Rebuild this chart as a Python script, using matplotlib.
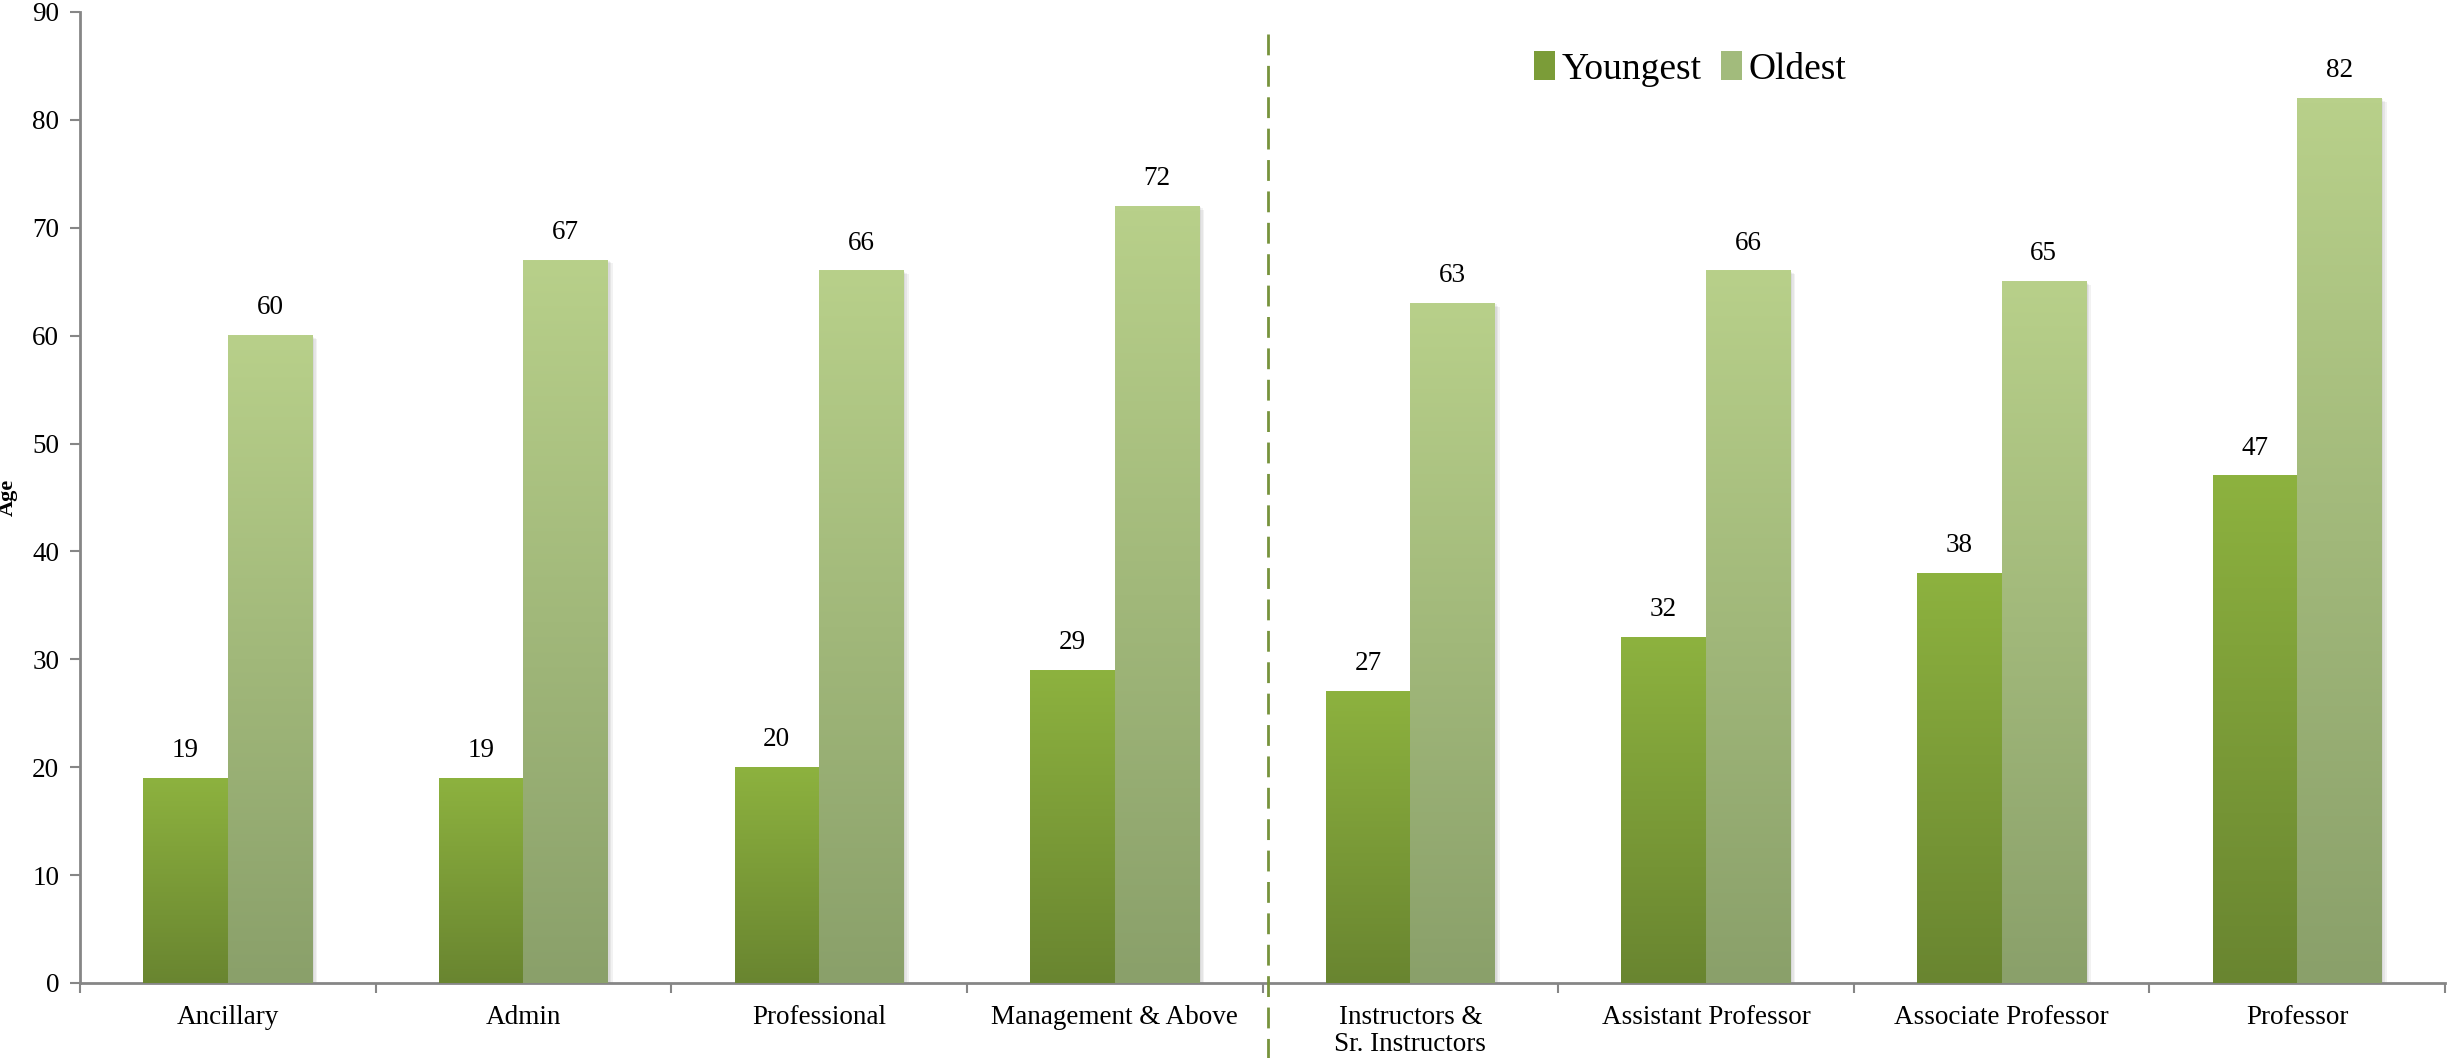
import matplotlib
matplotlib.use("Agg")
import matplotlib.pyplot as plt
import numpy as np
from matplotlib.colors import LinearSegmentedColormap, to_rgb
from matplotlib.patches import Patch, Rectangle
import matplotlib.transforms as mtransforms
from matplotlib import font_manager

categories = ["Ancillary", "Admin", "Professional", "Management & Above",
              "Instructors &\nSr. Instructors", "Assistant Professor",
              "Associate Professor", "Professor"]
youngest = [19, 19, 20, 29, 27, 32, 38, 47]
oldest = [60, 67, 66, 72, 63, 66, 65, 82]
yticks = [0, 10, 20, 30, 40, 50, 60, 70, 80, 90]

names = {f.name for f in font_manager.fontManager.ttflist}
serif_pick = [n for n in ["Liberation Serif", "Tinos", "Times New Roman", "Nimbus Roman",
                          "DejaVu Serif"] if n in names]
plt.rcParams['font.family'] = 'serif'
plt.rcParams['font.serif'] = serif_pick + ['DejaVu Serif']

W, H = 2450, 1058
fig = plt.figure(figsize=(W / 100, H / 100), dpi=100)
ax = fig.add_axes([80 / W, 1 - 983 / H, (2445 - 80) / W, (983 - 12) / H])

FS = 19.5
bw = 0.286
x = np.arange(len(categories))

y_top, y_bot = "#8DB23F", "#698530"
o_top, o_bot = "#B8D08A", "#8AA06A"


def grad_cmap(bot, top):
    return LinearSegmentedColormap.from_list("g", [to_rgb(bot), to_rgb(top)])


cm_y = grad_cmap(y_bot, y_top)
cm_o = grad_cmap(o_bot, o_top)
grad = np.linspace(0, 1, 256).reshape(-1, 1)

bars_y = ax.bar(x - bw / 2, youngest, bw, color="none", edgecolor="none", zorder=3)
bars_o = ax.bar(x + bw / 2, oldest, bw, color="none", edgecolor="none", zorder=3)

for bars, cm in ((bars_y, cm_y), (bars_o, cm_o)):
    for b in bars:
        x0, w, h = b.get_x(), b.get_width(), b.get_height()
        for k in range(3):
            off = mtransforms.ScaledTranslation((k + 1) * 1.2 / 72, -(k + 1) * 0.8 / 72,
                                                fig.dpi_scale_trans)
            ax.add_patch(Rectangle((x0, 0), w, h, facecolor="black", alpha=0.05,
                                   edgecolor="none", transform=ax.transData + off, zorder=2))
        ax.imshow(grad, extent=[x0, x0 + w, 0, h], origin="lower", cmap=cm,
                  aspect="auto", zorder=3, interpolation="bilinear")

for bars, vals in ((bars_y, youngest), (bars_o, oldest)):
    for b, v in zip(bars, vals):
        ax.annotate(str(v), (b.get_x() + b.get_width() / 2, v), xytext=(0, 11),
                    textcoords="offset points", ha="center", va="bottom",
                    fontsize=FS, color="black", zorder=5)

ax.set_xlim(-0.5, len(categories) - 0.5)
ax.set_ylim(0, 90)
ax.set_yticks(yticks)
ax.set_yticklabels([str(t) for t in yticks], fontsize=FS)
ax.set_xticks(x)
ax.set_xticklabels(categories, fontsize=FS, linespacing=1.1)
ax.tick_params(axis="x", which="major", length=0, pad=16)
ax.set_xticks(np.arange(-0.5, len(categories)), minor=True)
ax.tick_params(axis="x", which="minor", length=7, width=1.5, color="#868686", direction="out")
ax.tick_params(axis="y", length=7, width=1.5, color="#868686", direction="out", pad=8)

for s in ("top", "right"):
    ax.spines[s].set_visible(False)
for s in ("left", "bottom"):
    ax.spines[s].set_color("#868686")
    ax.spines[s].set_linewidth(2)

ax.set_ylabel("Age", fontsize=16, fontweight="bold", labelpad=10)

ax.plot([3.52, 3.52], [88, -7.2], linestyle=(0, (7.5, 3.8)), color="#77933C",
        linewidth=2, clip_on=False, zorder=4)

handles = [Patch(facecolor="#7B9C38", edgecolor="none"),
           Patch(facecolor="#A2BB7C", edgecolor="none")]
leg = ax.legend(handles, ["Youngest", "Oldest"], loc="center left",
                bbox_to_anchor=(1534 / W, 1 - 69 / H), bbox_transform=fig.transFigure,
                ncol=2, frameon=False, fontsize=27, handlelength=0.55, handleheight=0.8,
                handletextpad=0.2, columnspacing=0.5, borderaxespad=0, borderpad=0)

fig.savefig("out.png", dpi=100, facecolor="white")
